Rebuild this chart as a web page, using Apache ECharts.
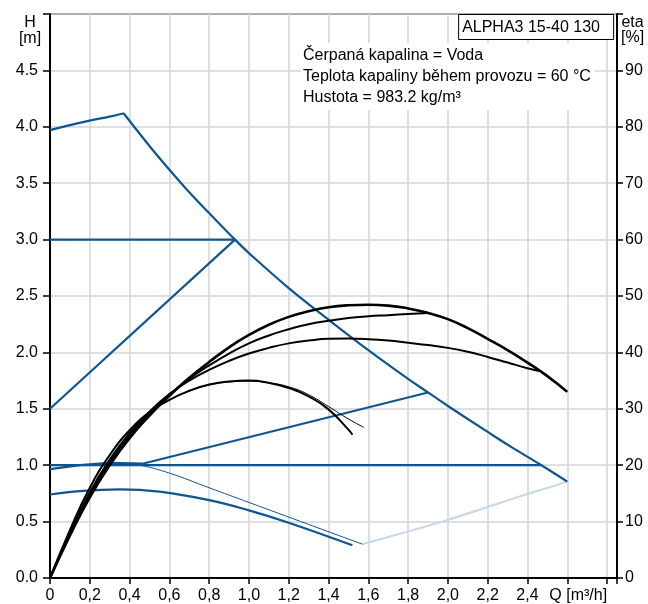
<!DOCTYPE html>
<html><head><meta charset="utf-8">
<script src="https://cdn.jsdelivr.net/npm/echarts/dist/echarts.min.js"></script>
<style>html,body{margin:0;padding:0;background:#fff}#c{width:648px;height:604px}</style>
</head><body><div id="c"></div>
<script>
const FONT = '"Liberation Sans", Arial, Helvetica, sans-serif';
const BLUE = '#0e5592';
const LIGHT = '#c9d9ea';

// ---- Head curves (H [m]) ----
const maxRiseQ = [0, 0.1, 0.2, 0.3, 0.37];
const maxRiseH = [3.97, 4.015, 4.055, 4.09, 4.12];
const maxFallQ = [0.37, 0.5, 0.6, 0.7, 0.8, 0.93, 1.0, 1.2, 1.4, 1.6, 1.8, 1.9, 2.0, 2.2, 2.32, 2.47, 2.6];
const maxFallH = [4.12, 3.83, 3.62, 3.42, 3.235, 3.0, 2.88, 2.57, 2.29, 2.02, 1.765, 1.645, 1.525, 1.295, 1.16, 1.0, 0.855];
const cpHighQ = [0, 0.93];
const cpHighH = [3.0, 3.0];
const ppHighQ = [0, 0.93];
const ppHighH = [1.5, 3.0];
const cpLowQ = [0, 2.47];
const cpLowH = [1.0, 1.0];
const ppLowQ = [0, 0.15, 0.3, 0.47, 1.9];
const ppLowH = [0.965, 1.0, 1.02, 1.015, 1.645];
const minThinQ = [0.3, 0.45, 0.6, 0.8, 1.0, 1.3, 1.57];
const minThinH = [1.02, 1.0, 0.93, 0.8, 0.67, 0.475, 0.3];
const minThickQ = [0, 0.15, 0.35, 0.55, 0.8, 1.0, 1.2, 1.52];
const minThickH = [0.74, 0.77, 0.785, 0.765, 0.69, 0.6, 0.49, 0.29];
const limitQ = [1.57, 1.99, 2.4, 2.54, 2.6];
const limitH = [0.3, 0.51, 0.745, 0.82, 0.855];

// ---- Efficiency curves (eta [%]) ----
const eta1Q = [0, 0.1, 0.2, 0.3, 0.4, 0.5, 0.6, 0.7, 0.8, 0.9, 1.0, 1.1, 1.2, 1.3, 1.4, 1.5, 1.6, 1.7, 1.8, 1.9, 2.0, 2.1, 2.2, 2.3, 2.4, 2.5, 2.6];
const eta1E = [0, 7.5, 14.3, 20.0, 24.8, 28.8, 32.3, 35.5, 38.3, 40.9, 43.1, 44.9, 46.3, 47.3, 48.0, 48.35, 48.45, 48.3, 47.8, 47.0, 45.9, 44.3, 42.4, 40.4, 38.2, 35.8, 33.0];
const eta2Q = [0, 0.1, 0.2, 0.3, 0.4, 0.5, 0.6, 0.7, 0.8, 0.9, 1.0, 1.1, 1.2, 1.3, 1.4, 1.5, 1.6, 1.7, 1.8, 1.9];
const eta2E = [0, 7.8, 14.8, 20.6, 25.3, 29.2, 32.5, 35.3, 37.7, 39.8, 41.6, 43.0, 44.1, 45.0, 45.6, 46.1, 46.4, 46.6, 46.8, 47.0];
const eta3Q = [0, 0.1, 0.2, 0.3, 0.4, 0.5, 0.6, 0.7, 0.8, 0.9, 1.0, 1.1, 1.2, 1.3, 1.4, 1.5, 1.6, 1.7, 1.8, 1.9, 2.0, 2.1, 2.2, 2.3, 2.4, 2.46];
const eta3E = [0, 8.0, 15.2, 21.0, 25.7, 29.5, 32.6, 35.0, 36.9, 38.5, 39.8, 40.8, 41.6, 42.1, 42.4, 42.45, 42.35, 42.1, 41.7, 41.3, 40.8, 40.1, 39.2, 38.2, 37.2, 36.7];
const eta4Q = [0, 0.1, 0.2, 0.3, 0.4, 0.5, 0.6, 0.7, 0.8, 0.9, 1.0, 1.1, 1.2, 1.3, 1.4, 1.5, 1.52];
const eta4E = [0, 8.5, 16.0, 21.8, 26.2, 29.4, 31.6, 33.2, 34.3, 34.85, 35.0, 34.6, 33.7, 32.2, 29.9, 26.3, 25.4];
const eta5Q = [0, 0.1, 0.2, 0.3, 0.4, 0.5, 0.6, 0.7, 0.8, 0.9, 1.0, 1.1, 1.2, 1.3, 1.4, 1.5, 1.578];
const eta5E = [0, 8.4, 15.9, 21.7, 26.1, 29.3, 31.5, 33.1, 34.2, 34.75, 34.9, 34.6, 33.9, 32.5, 30.4, 28.2, 26.7];

// ---- Texts ----
const titleText = 'ALPHA3 15-40 130';
const infoLines = ['Čerpaná kapalina = Voda', 'Teplota kapaliny během provozu = 60 °C', 'Hustota = 983.2 kg/m³'];
const xAxisTitle = 'Q [m³/h]';
const leftAxisTitle = 'H\n[m]';
const rightAxisTitle = 'eta\n[%]';

const zip = (a, b) => a.map((v, i) => [v, b[i]]);

function line(q, v, opts) {
  return Object.assign({
    type: 'line', data: zip(q, v), showSymbol: false, symbol: 'none',
    yAxisIndex: 0, smooth: false, silent: true,
    lineStyle: { color: BLUE, width: 2.2 }
  }, opts);
}

const chart = echarts.init(document.getElementById('c'), null, { renderer: 'canvas' });
chart.setOption({
  animation: false,
  backgroundColor: '#fff',
  textStyle: { fontFamily: FONT },
  title: [
    {
      text: titleText, right: 34, top: 14,
      borderColor: '#000', borderWidth: 1, backgroundColor: '#fff',
      padding: [5, 14, 4, 4],
      textStyle: { fontFamily: FONT, fontSize: 16, fontWeight: 'normal', color: '#000', lineHeight: 17 }
    },
    {
      text: infoLines.join('\n'), left: 300, top: 43,
      backgroundColor: '#fff', padding: [2, 4, 2, 3],
      textStyle: { fontFamily: FONT, fontSize: 16, fontWeight: 'normal', color: '#000', lineHeight: 21 }
    }
  ],
  grid: { left: 50, right: 31, top: 14, bottom: 23, show: true, borderColor: '#000', borderWidth: 1.5, backgroundColor: 'transparent' },
  xAxis: {
    type: 'value', min: 0, max: 2.85, interval: 0.2,
    axisLine: { show: true, onZero: false, lineStyle: { color: '#000', width: 2 } },
    axisTick: { show: true, length: 6, lineStyle: { color: '#000', width: 1.5 } },
    splitLine: { show: true, lineStyle: { color: '#d2d5d8', width: 1.5 } },
    axisLabel: {
      margin: 10, color: '#000', fontFamily: FONT, fontSize: 16, showMaxLabel: true,
      formatter: v => {
        if (Math.abs(v - 2.6) < 1e-6) return '{q|' + xAxisTitle + '}';
        if (v > 2.7) return '';
        if (v === 0) return '0';
        return v.toFixed(1).replace('.', ',');
      },
      rich: { q: { fontFamily: FONT, fontSize: 16, color: '#000', padding: [0, 0, 0, 22] } }
    }
  },
  yAxis: [
    {
      type: 'value', min: 0, max: 5, interval: 0.5,
      axisLine: { show: true, lineStyle: { color: '#000', width: 2 } },
      axisTick: { show: true, length: 7, lineStyle: { color: '#000', width: 1.5 } },
      splitLine: { show: true, lineStyle: { color: '#d2d5d8', width: 1.5 } },
      axisLabel: { margin: 12, color: '#000', fontFamily: FONT, fontSize: 16,
        formatter: v => (v >= 4.99 ? '' : v.toFixed(1)) }
    },
    {
      type: 'value', min: 0, max: 100, interval: 10, position: 'right',
      axisLine: { show: true, lineStyle: { color: '#000', width: 2 } },
      axisTick: { show: true, length: 6, lineStyle: { color: '#000', width: 1.5 } },
      splitLine: { show: false },
      axisLabel: { margin: 8, color: '#000', fontFamily: FONT, fontSize: 16,
        formatter: v => (v >= 99.9 ? '' : String(v)) }
    }
  ],
  graphic: [
    { type: 'text', left: 18, top: 14, style: { text: leftAxisTitle, font: '16px ' + FONT, fill: '#000', textAlign: 'center', lineHeight: 16.5, width: 24 } },
    { type: 'text', left: 621, top: 15, style: { text: rightAxisTitle, font: '16px ' + FONT, fill: '#000', textAlign: 'center', lineHeight: 14.5, width: 22 } }
  ],
  series: [
    line(limitQ, limitH, { smooth: 0.3, lineStyle: { color: LIGHT, width: 2.2 } }),
    line(maxRiseQ, maxRiseH, { smooth: 0.4 }),
    line(maxFallQ, maxFallH, { smooth: 0.4 }),
    line(cpHighQ, cpHighH),
    line(ppHighQ, ppHighH),
    line(cpLowQ, cpLowH),
    line(ppLowQ, ppLowH),
    line(minThinQ, minThinH, { smooth: 0.4, lineStyle: { color: BLUE, width: 1 } }),
    line(minThickQ, minThickH, { smooth: 0.4 }),
    line(eta3Q, eta3E, { yAxisIndex: 1, smooth: 0.5, lineStyle: { color: '#000', width: 2 } }),
    line(eta2Q, eta2E, { yAxisIndex: 1, smooth: 0.5, lineStyle: { color: '#000', width: 2 } }),
    line(eta1Q, eta1E, { yAxisIndex: 1, smooth: 0.5, lineStyle: { color: '#000', width: 2.6 } }),
    line(eta5Q, eta5E, { yAxisIndex: 1, smooth: 0.5, lineStyle: { color: '#000', width: 1 } }),
    line(eta4Q, eta4E, { yAxisIndex: 1, smooth: 0.5, lineStyle: { color: '#000', width: 2 } })
  ]
});
</script></body></html>
